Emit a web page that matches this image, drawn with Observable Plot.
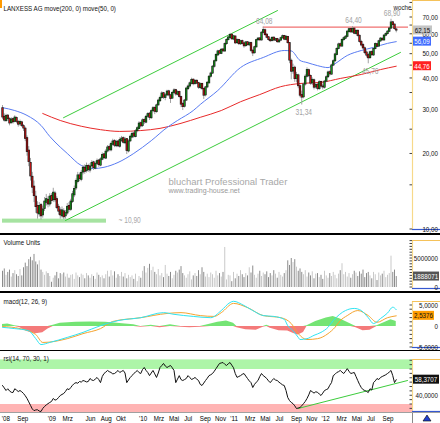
<!DOCTYPE html>
<html><head><meta charset="utf-8">
<script src="https://cdn.jsdelivr.net/npm/d3@7"></script>
<script src="https://cdn.jsdelivr.net/npm/@observablehq/plot@0.6"></script>
<style>
html,body{margin:0;padding:0;background:#fff;overflow:hidden}
#chart{position:relative;width:440px;height:423px;overflow:hidden;background:#fff}
#chart svg{position:absolute;left:0;overflow:hidden}
.bar{position:absolute;left:0;width:440px}
</style></head><body><div id="chart"></div>
<script>
// ---------- DATA ----------
const startWeek = "2008-07-04";
const xDomain = ["2008-06-26", "2012-12-30"];
const open = [30.4,28.1,27.1,28.4,27.5,26.6,27.5,26.9,27.8,26.8,
26.3,26.7,25.8,25.2,23.1,20.6,18.4,16.2,14.8,13.5,
12.4,11.5,12.5,11.4,12.1,12.8,13.1,12.6,13.6,13.1,
13.9,13.2,12.3,11.9,11.3,11.8,11.3,11.6,12.4,12.0,
12.9,13.7,14.6,15.5,16.4,15.8,16.9,17.6,17.1,17.9,
17.2,17.9,18.5,17.5,18.3,18.8,18.0,19.0,19.9,19.2,
20.5,21.3,20.7,21.8,22.5,21.5,22.4,21.4,22.6,23.1,
22.1,22.9,20.5,22.5,23.3,24.1,23.4,24.7,25.2,26.5,
25.9,27.3,26.7,28.2,28.9,27.8,29.7,30.5,29.4,31.3,
32.5,33.5,34.9,33.5,34.3,35.5,34.2,33.3,35.1,35.9,
34.5,35.3,33.7,31.6,30.9,32.7,36.3,37.2,38.1,39.5,
38.1,39.1,38.3,36.7,38.0,36.3,34.3,36.9,38.3,40.7,
41.9,44.6,46.9,49.5,51.3,50.2,52.1,51.3,54.9,57.0,
58.1,59.7,57.3,58.7,55.4,56.9,54.8,56.3,55.1,53.9,
55.7,54.3,55.3,51.5,50.5,53.3,56.9,57.7,56.8,60.9,
62.2,59.7,58.3,56.9,56.5,58.1,56.7,57.4,55.8,56.7,
57.9,59.0,57.1,58.5,55.3,47.0,42.7,44.1,39.9,41.1,
37.2,34.3,33.7,37.9,40.7,43.1,40.9,38.3,39.3,36.9,
37.7,36.3,38.7,37.1,36.8,38.9,40.5,42.3,41.5,45.1,
46.9,49.7,52.5,54.7,53.7,57.0,57.7,58.7,61.3,62.9,
61.1,63.1,60.3,61.9,59.1,55.9,54.3,52.7,50.7,49.5,
48.3,50.9,49.5,52.5,54.7,53.7,56.3,57.5,56.8,59.3,
60.2,61.5,63.3,66.9,65.5,62.6];
const high = [31.2,28.9,28.8,28.7,27.9,27.9,27.8,28.4,28.1,27.2,
27.3,27.0,26.2,25.6,23.6,21.4,19.2,16.9,15.6,14.2,
12.9,12.8,12.7,12.4,13.4,13.8,13.5,13.9,13.9,14.6,
14.2,13.5,12.6,12.2,12.3,12.1,11.9,12.7,12.8,13.2,
14.2,14.9,15.9,16.9,16.8,17.2,18.0,18.1,18.4,18.2,
18.3,18.8,18.7,18.6,19.1,19.0,19.3,20.2,20.1,20.8,
21.6,21.7,22.3,22.9,22.8,22.7,22.6,23.2,23.5,23.4,
23.3,23.0,22.8,23.8,24.5,24.4,25.0,25.7,26.9,26.8,
27.6,27.8,28.5,29.2,29.3,30.0,30.9,30.8,31.6,33.1,
34.0,35.4,35.2,34.8,35.9,35.9,34.6,35.5,36.4,36.2,
35.7,35.6,34.0,32.0,33.0,36.9,37.7,38.7,40.1,39.8,
39.6,39.5,38.6,38.4,38.3,36.6,37.2,38.9,41.0,42.4,
45.0,47.4,50.2,51.8,51.9,52.6,52.7,55.4,57.6,58.9,
60.5,60.2,59.4,59.1,57.6,57.3,56.8,56.9,55.8,56.2,
56.1,55.9,55.8,52.2,53.8,57.3,58.2,58.1,61.4,64.08,
63.0,60.4,58.8,57.6,58.6,58.5,57.9,57.8,57.2,58.4,
59.6,59.4,59.2,58.9,55.6,47.8,45.6,44.8,42.3,41.6,
37.8,35.6,38.3,41.4,44.1,43.6,41.3,40.2,39.8,38.3,
38.2,39.2,39.0,37.9,39.3,41.0,42.8,42.9,45.6,47.5,
50.4,53.0,55.3,55.4,57.5,58.6,59.3,62.0,63.6,63.5,
64.40,63.6,62.5,62.3,59.6,56.8,55.2,53.4,51.6,50.3,
51.4,51.5,52.9,55.4,55.2,56.8,58.2,58.1,59.8,60.8,
62.0,63.9,68.90,67.6,65.9,63.4];
const low = [27.4,26.8,26.7,27.0,25.9,26.2,26.3,26.6,26.4,25.6,
25.8,25.5,24.6,22.4,19.6,17.8,15.6,13.9,12.8,11.6,
11.0,11.2,10.9,11.1,11.8,12.4,12.2,12.3,12.6,12.8,
12.8,12.0,11.4,11.0,11.1,10.95,11.0,11.4,11.7,11.8,
12.7,13.4,14.3,15.2,15.5,15.5,16.5,16.6,16.8,16.9,
16.8,17.6,17.2,17.3,18.0,17.7,17.8,18.8,19.0,19.0,
20.2,20.4,20.4,21.5,21.2,21.2,21.2,21.1,22.2,21.9,
21.8,19.9,20.2,22.2,23.0,23.1,23.2,24.3,25.0,25.4,
25.5,26.2,26.4,27.8,27.2,27.5,29.2,28.7,29.1,31.0,
32.1,33.1,33.0,32.6,33.9,33.8,31.8,33.0,34.7,34.0,
34.1,33.4,30.6,29.8,30.5,32.4,35.8,36.6,37.7,37.4,
37.6,37.8,36.2,36.1,35.8,33.0,33.8,36.4,38.0,40.1,
41.5,44.0,46.5,48.9,49.6,49.8,50.8,51.0,54.2,56.4,
57.5,56.8,56.6,54.6,54.8,54.1,54.2,54.4,52.8,53.2,
53.8,53.6,50.8,48.9,50.0,52.9,56.2,56.1,56.4,60.2,
59.0,57.6,56.3,55.6,55.9,56.1,56.2,55.2,55.3,56.2,
57.4,56.6,56.5,54.8,45.8,39.5,41.6,38.6,38.4,36.4,
33.5,31.34,33.2,37.3,40.2,40.3,37.6,37.5,36.0,36.3,
35.7,35.9,36.6,36.0,36.3,38.5,40.0,40.8,41.2,44.6,
46.4,49.2,52.0,53.0,53.3,56.2,57.1,58.1,60.6,60.5,
60.6,59.8,59.6,58.5,55.3,53.4,52.0,49.8,48.3,45.76,
47.6,48.9,49.0,52.0,53.0,53.2,55.7,56.2,56.3,58.6,
59.5,60.9,62.8,64.6,62.3,60.8];
const close = [28.0,27.2,28.3,27.6,26.5,27.4,26.8,27.9,26.9,26.2,
26.8,25.9,25.3,23.0,20.4,18.6,16.3,14.7,13.6,12.3,
11.6,12.4,11.3,12.0,12.9,13.2,12.6,13.5,13.0,14.0,
13.1,12.2,11.8,11.4,11.9,11.2,11.6,12.3,12.0,12.9,
13.8,14.5,15.6,16.4,15.9,16.8,17.6,17.0,17.9,17.3,
17.8,18.4,17.6,18.2,18.7,18.1,19.0,19.8,19.3,20.4,
21.2,20.8,21.9,22.4,21.6,22.3,21.5,22.7,23.0,22.2,
22.8,20.6,22.4,23.4,24.0,23.5,24.6,25.3,26.4,25.8,
27.2,26.8,28.1,28.8,27.9,29.6,30.4,29.5,31.2,32.6,
33.4,34.8,33.6,34.2,35.4,34.3,33.2,35.0,35.8,34.6,
35.2,33.8,31.5,30.8,32.6,36.4,37.1,38.2,39.4,38.0,
39.0,38.2,36.8,37.9,36.4,34.2,36.8,38.4,40.6,41.8,
44.5,46.8,49.6,51.2,50.3,52.0,51.4,54.8,56.9,58.2,
59.6,57.4,58.8,55.3,56.8,54.9,56.2,55.0,53.8,55.6,
54.4,55.2,51.6,50.4,53.2,56.8,57.6,56.9,60.8,62.3,
59.6,58.2,57.0,56.4,58.0,56.8,57.3,55.9,56.6,57.8,
58.9,57.2,58.6,55.4,47.2,42.6,44.0,39.8,41.2,37.3,
34.2,33.6,37.8,40.6,43.2,41.0,38.2,39.4,36.8,37.6,
36.4,38.6,37.2,36.9,38.8,40.4,42.2,41.6,45.0,46.8,
49.8,52.4,54.6,53.8,56.9,57.8,58.6,61.4,62.8,61.2,
63.0,60.4,61.8,59.2,56.0,54.2,52.8,50.6,49.4,48.2,
50.8,49.6,52.4,54.8,53.6,56.2,57.6,56.9,59.2,60.1,
61.4,63.2,66.8,65.4,63.0,62.15];
const volumeM = [2.8,3.2,2.1,2.6,3.0,1.8,2.4,2.9,2.2,1.9,
3.1,2.0,3.4,4.2,3.6,4.8,5.2,4.6,5.7,4.4,
3.9,4.6,3.0,2.6,2.1,2.7,2.4,1.9,0.9,1.6,
2.0,2.6,1.5,2.4,2.2,2.5,1.8,2.3,1.6,2.1,
2.2,1.4,2.5,2.0,1.7,2.3,2.1,1.5,2.4,2.0,
1.6,2.2,1.9,1.4,2.5,2.1,1.7,2.0,1.5,2.2,
2.8,1.8,2.9,2.0,2.7,1.6,2.2,1.9,2.6,1.8,
2.4,1.5,2.1,1.7,2.0,1.4,2.3,1.0,1.9,1.6,
2.8,3.6,2.5,3.3,4.0,2.9,3.5,2.6,2.2,3.1,
2.0,2.4,1.7,3.8,2.3,1.9,2.6,1.5,2.1,2.8,
2.5,3.0,3.6,2.4,2.0,1.6,2.2,2.7,1.3,2.0,
2.4,1.9,2.9,2.2,3.4,2.6,1.8,2.3,1.7,2.5,
2.2,1.6,2.8,2.0,2.4,1.8,2.6,6.9,1.3,2.1,
2.0,1.0,2.6,1.5,2.3,1.9,2.9,2.2,1.7,2.4,
2.0,3.4,2.5,3.7,2.1,1.6,2.3,2.8,1.9,2.5,
2.2,2.7,1.7,2.4,2.0,2.9,2.3,1.6,2.6,2.1,
1.8,2.4,2.9,4.6,3.8,5.0,4.3,4.8,3.5,2.8,
3.2,2.6,2.2,2.9,1.8,2.5,2.0,2.7,1.5,2.3,
2.4,1.7,2.1,1.4,2.8,2.0,1.6,2.4,1.9,2.6,
2.1,1.5,2.3,2.9,4.1,2.2,2.6,1.8,2.4,1.6,
2.2,2.8,2.5,1.9,2.7,2.3,3.0,1.7,2.4,2.6,
2.0,1.5,2.6,2.2,1.2,2.5,2.0,2.3,2.8,1.7,
2.1,2.4,5.4,2.6,3.0,1.888071];
const rsi = [51.7,49.0,46.0,48.0,45.5,44.0,43.7,48.0,46.5,44.8,
46.0,44.5,42.6,40.0,36.9,33.0,29.0,25.0,23.0,23.8,
24.0,22.5,22.0,25.5,27.7,29.5,31.0,32.3,33.5,36.9,
35.0,35.7,38.0,40.3,41.5,42.6,45.0,48.0,47.0,49.4,
52.0,54.0,55.0,54.3,56.3,55.6,57.4,56.8,55.8,56.3,
59.7,58.0,57.4,59.0,60.9,58.5,55.0,62.0,65.4,67.0,
68.9,67.5,66.6,65.0,65.4,67.0,68.9,66.6,67.8,68.9,
66.0,55.0,58.0,60.9,63.0,65.4,67.0,68.9,66.5,65.4,
70.0,72.3,69.0,66.6,63.0,66.0,68.9,65.0,60.9,66.0,
72.3,74.5,76.9,74.0,72.3,73.5,74.6,72.0,68.9,55.0,
59.0,63.0,58.5,57.4,58.5,59.7,63.0,61.0,58.6,59.5,
60.9,59.0,57.4,53.0,51.7,54.5,57.4,60.0,63.0,64.0,
65.4,68.0,71.0,74.0,76.9,77.5,78.0,76.0,74.6,76.5,
78.0,75.0,72.0,65.4,61.0,62.0,63.0,64.5,65.4,62.5,
59.7,57.0,55.0,49.4,53.0,55.5,57.4,62.0,65.4,63.0,
61.5,59.7,57.0,55.0,57.5,59.7,58.0,57.4,55.5,54.0,
52.5,51.7,46.0,38.0,34.5,32.3,31.0,28.5,25.4,26.0,
26.6,28.5,31.0,33.5,36.9,41.0,46.0,44.5,43.0,44.5,
44.0,42.0,40.3,43.0,46.0,47.0,48.0,52.0,55.0,63.0,
64.5,66.6,67.5,68.9,67.0,65.4,68.0,71.0,68.0,65.4,
66.0,66.6,62.0,57.4,53.0,49.4,47.0,46.0,45.0,43.7,
48.0,46.5,55.0,57.0,59.7,58.5,60.9,62.0,63.0,64.0,
65.4,67.0,68.9,63.0,55.0,58.3707];
const ma50Week = [0,7,14,22,27,33,37,45,52,58,66,75,85,94,100,109,113,123,136,149,161,165,170,174,180,186,190,197,205,212,220,225];
const ma50Value = [30.6,29.8,28.5,26.0,23.5,21.3,20.1,18.0,17.5,17.7,18.5,20.1,22.6,25.5,27.2,29.8,31.5,35.8,44.2,48.5,51.7,51.5,47.2,46.3,45.0,44.2,45.8,49.4,51.7,53.2,55.2,56.09];
const ma200Week = [23,33,45,56,67,79,90,102,113,125,136,147,159,170,182,193,205,216,225];
const ma200Value = [29.0,27.2,25.8,25.0,24.6,24.8,25.3,26.5,28.0,29.8,32.3,34.5,37.1,38.2,38.6,40.0,41.5,43.4,44.76];
const macdWeek = [0,7,15,19,22,27,37,46,56,66,79,92,98,109,119,125,130,132,138,143,149,155,161,163,166,169,170,174,178,182,186,189,196,201,205,209,212,216,220,223,225];
const macdValue = [-0.2,-0.5,-1.0,-2.9,-4.3,-3.8,-2.6,-1.4,0.2,1.4,2.1,3.3,2.9,2.4,2.1,3.8,5.7,6.0,5.0,3.8,2.6,2.4,1.7,0.2,-1.0,-2.6,-3.1,-2.9,-2.1,-1.4,-0.2,1.4,3.8,4.3,3.8,2.1,0.7,1.9,3.2,4.6,4.0];
const signalWeek = [0,10,19,23,37,46,56,63,79,94,102,113,121,125,132,140,149,159,165,169,174,180,186,190,193,197,203,209,214,220,225];
const signalValue = [0,-0.5,-1.9,-3.8,-2.9,-1.7,-0.5,1.2,2.1,3.1,3.3,2.6,2.4,3.3,5.5,4.5,2.6,2.1,0.7,-1.7,-3.1,-2.9,-1.7,-0.2,1.4,2.6,3.8,2.6,1.0,2.1,2.5376];
const histWeek = [0,3,7,10,14,19,23,26,29,33,42,50,59,67,75,79,85,90,96,102,107,113,119,123,128,132,134,139,145,149,151,153,158,163,166,169,172,174,179,185,189,193,199,202,206,210,214,218,222,225];
const histValue = [0.5,0.6,0.2,-0.3,-1.2,-1.7,-1.5,-0.6,0.3,0.8,1.0,1.1,1.0,0.7,0.4,-0.2,0.3,-0.3,0.4,-0.2,-0.3,-0.2,0.6,1.0,1.3,0.8,-0.3,-0.8,-0.9,-0.2,0.3,-0.4,-1.0,-1.1,-1.6,-2.0,-1.4,0.2,1.2,2.0,2.4,1.8,0.6,-0.3,-1.0,-0.9,0.2,0.9,1.6,1.2];
// annotations
const peakHighWeek = [149, 200, 222];
const peakHighValue = [64.08, 64.40, 68.90];
const peakLowWeek = [209, 171];
const peakLowValue = [45.76, 31.34];
const lowZoneDates = ["2008-07-04", "2009-08-24"];
const lowZoneRange = [10.6, 11.0];
const lowZoneLabel = "~ 10,90";
const channelLowerDates = ["2009-03-13", "2012-11-12"];
const channelLowerValues = [10.86, 50.8];
const channelUpperDates = ["2009-03-05", "2011-07-09"];
const channelUpperValues = [27.9, 74.6];
const resistanceDates = ["2011-05-13", "2012-12-14"];
const resistanceValue = 64.08;
const rsiTrendDates = ["2011-09-30", "2012-12-10"];
const rsiTrendValues = [25.5, 57.4];
const rsiZones = [[70, 81, "#adf5a8"], [20, 30, "#ffb4b4"]];
// tick labels
const priceTicks = [10, 20, 30, 40, 50, 60, 70];
const volumeTicks = [0, 5];
const macdTicks = [-5, 0, 5];
const rsiTicks = [40, 60];
const xLabels = [["2008-07-01","'08"],["2008-09-01","Sep"],["2009-01-01","'09"],["2009-03-01","Mrz"],["2009-06-01","Jun"],["2009-08-01","Aug"],["2009-10-01","Okt"],["2010-01-01","'10"],["2010-03-01","Mrz"],["2010-05-01","Mai"],["2010-07-01","Jul"],["2010-09-01","Sep"],["2010-11-01","Nov"],["2011-01-01","'11"],["2011-03-01","Mrz"],["2011-05-01","Mai"],["2011-07-01","Jul"],["2011-09-01","Sep"],["2011-11-01","Nov"],["2012-01-01","'12"],["2012-03-01","Mrz"],["2012-05-01","Mai"],["2012-07-01","Jul"],["2012-09-01","Sep"]];
const titleText = "LANXESS AG move(200, 0) move(50, 0)";

// ---------- BUILD ----------
const FONT = '"Liberation Sans",Arial,sans-serif';
const root = document.getElementById("chart");
const D = s => new Date(s + "T00:00:00Z");
const t0 = D(startWeek);
const weekDate = i => new Date(t0.getTime() + i * 7 * 864e5);
const comma = (v, n) => v.toFixed(n).replace(".", ",");
const candles = close.map((c, i) => ({date: weekDate(i), o: open[i], h: high[i], l: low[i], c, v: volumeM[i], r: rsi[i]}));
const series = (w, v) => w.map((k, i) => ({date: weekDate(k), v: v[i]}));
const ma50 = series(ma50Week, ma50Value), ma200 = series(ma200Week, ma200Value);
const macdS = series(macdWeek, macdValue), sigS = series(signalWeek, signalValue), histS = series(histWeek, histValue);
const xOpt = {type: "utc", domain: xDomain.map(D), range: [0, 412], axis: null};

function panel(top, height, y, marks) {
  const p = Plot.plot({width: 440, height, marginLeft: 0, marginRight: 28, marginTop: 0, marginBottom: 0,
    x: xOpt, y: {...y, axis: null},
    style: {fontFamily: FONT, fontSize: "8px", background: "transparent"}, marks});
  p.style.top = top + "px";
  root.appendChild(p);
  return p;
}
function hline(top, h, color) {
  const d = document.createElement("div"); d.className = "bar";
  d.style.top = top + "px"; d.style.height = h + "px"; d.style.background = color; root.appendChild(d);
}
function axisBox(p, top, bottom, ticks, fmt, minor, boxes) {
  const y = p.scale("y");
  const g = d3.select(p).append("g").attr("font-family", FONT).attr("font-size", 8);
  g.append("line").attr("x1", 412.5).attr("x2", 412.5).attr("y1", top).attr("y2", bottom).attr("stroke", "#f7d98a").attr("stroke-width", 1.2);
  g.append("line").attr("x1", 412).attr("x2", 440).attr("y1", top + 0.5).attr("y2", top + 0.5).attr("stroke", "#f5c25a");
  g.append("line").attr("x1", 412).attr("x2", 440).attr("y1", bottom - 0.5).attr("y2", bottom - 0.5).attr("stroke", "#3558d0").attr("stroke-width", 1.2);
  minor.forEach(t => { const yy = y.apply(t); if (yy >= top && yy <= bottom) g.append("line").attr("x1", 409.5).attr("x2", 412).attr("y1", yy).attr("y2", yy).attr("stroke", "#444"); });
  ticks.forEach(t => g.append("text").attr("x", 438).attr("y", y.apply(t)).attr("dy", "0.35em").attr("text-anchor", "end").attr("fill", "#111").text(fmt(t)));
  boxes.forEach(b => { const yy = y.apply(b.v);
    g.append("rect").attr("x", 413).attr("y", yy - 4.5).attr("width", b.w).attr("height", 9).attr("fill", b.bg);
    g.append("text").attr("x", 413 + b.w / 2).attr("y", yy).attr("dy", "0.35em").attr("text-anchor", "middle").attr("fill", b.fg).text(b.text); });
}

// Price panel
const last = candles[candles.length - 1];
const pPrice = panel(0, 233, {type: "log", domain: [10, 70], range: [229, 17]}, [
  Plot.text([1], {frameAnchor: "top-left", dx: 168, dy: 178, text: () => "bluchart Professional Trader", textAnchor: "start", fill: "#a8a8a8", fontSize: 9.5, style: "letter-spacing:0.4px"}),
  Plot.text([1], {frameAnchor: "top-left", dx: 168, dy: 188, text: () => "www.trading-house.net", textAnchor: "start", fill: "#999", fontSize: 7}),
  Plot.rect([0], {x1: () => D(lowZoneDates[0]), x2: () => D(lowZoneDates[1]), y1: () => lowZoneRange[0], y2: () => lowZoneRange[1], fill: "#a6e3a1"}),
  Plot.text([0], {x: () => D(lowZoneDates[1]), y: () => 10.9, text: () => lowZoneLabel, dx: 12, textAnchor: "start", fill: "#aaa", fontSize: 8.5}),
  Plot.line(channelLowerDates.map((d, i) => ({date: D(d), v: channelLowerValues[i]})), {x: "date", y: "v", stroke: "#3ccc3c", strokeWidth: 1}),
  Plot.line(channelUpperDates.map((d, i) => ({date: D(d), v: channelUpperValues[i]})), {x: "date", y: "v", stroke: "#3ccc3c", strokeWidth: 1}),
  Plot.ruleY([resistanceValue], {x1: D(resistanceDates[0]), x2: D(resistanceDates[1]), stroke: "#f07070", strokeWidth: 1.4}),
  Plot.line(ma200, {x: "date", y: "v", stroke: "#e82a2a", strokeWidth: 1, curve: "monotone-x"}),
  Plot.line(ma50, {x: "date", y: "v", stroke: "#5a7cf2", strokeWidth: 1, curve: "monotone-x"}),
  Plot.ruleX(candles, {x: "date", y1: "l", y2: "h", stroke: "#a2a2a2", strokeWidth: 1}),
  Plot.ruleX(candles, {x: "date", y1: d => Math.min(d.o, d.c) * 0.995, y2: d => Math.max(d.o, d.c) * 1.005, stroke: "#111", strokeWidth: 2.3}),
  Plot.ruleX(candles, {x: "date", y1: "o", y2: "c", stroke: d => d.c >= d.o ? "#16901a" : "#b81414", strokeWidth: 1.1}),
  Plot.text(peakHighWeek, {x: w => weekDate(w), y: (w, i) => peakHighValue[i], text: (w, i) => comma(peakHighValue[i], 2), dy: -6, dx: 1, fill: "#a3a3a3", fontSize: 8.5}),
  Plot.text(peakLowWeek, {x: w => weekDate(w), y: (w, i) => peakLowValue[i], text: (w, i) => comma(peakLowValue[i], 2), dy: 7, dx: 2, fill: "#a3a3a3", fontSize: 8.5}),
  Plot.text([titleText], {frameAnchor: "top-left", dx: 3, dy: 4.5, text: d => d, textAnchor: "start", fill: "#111", fontSize: 8}),
  Plot.text(["woche"], {frameAnchor: "top-right", dx: -1, dy: 3.5, text: d => d, textAnchor: "end", fill: "#222", fontSize: 8})
]);
axisBox(pPrice, 0, 230, priceTicks, v => comma(v, 2), d3.range(10, 85, 5), [
  {v: last.c, text: comma(last.c, 2), bg: "#c4c4c4", fg: "#111", w: 19},
  {v: ma50Value[ma50Value.length - 1], text: comma(ma50Value[ma50Value.length - 1], 2), bg: "#3f6cff", fg: "#fff", w: 18},
  {v: ma200Value[ma200Value.length - 1], text: comma(ma200Value[ma200Value.length - 1], 2), bg: "#ff2020", fg: "#fff", w: 18}
]);
d3.select(pPrice).append("rect").attr("x", 0).attr("y", 0).attr("width", 2).attr("height", 8).attr("fill", "#ff9a00");
hline(233, 2, "#000");

// Volume panel
const pVol = panel(235, 56, {domain: [0, 5], range: [52, 23]}, [
  Plot.ruleX(candles, {x: "date", y1: 0, y2: "v", stroke: d => d.c >= d.o ? "#c9c9c9" : "#8c8c8c", strokeWidth: 1}),
  Plot.text(["Volume Units"], {frameAnchor: "top-left", dx: 3, dy: 4, text: d => d, textAnchor: "start", fill: "#111", fontSize: 8})
]);
axisBox(pVol, 5, 54, volumeTicks, v => String(Math.round(v * 1e6)), d3.range(0, 9, 0.5), [
  {v: last.v, text: String(Math.round(last.v * 1e6)), bg: "#555", fg: "#fff", w: 26}
]);
hline(291, 2, "#000");

// MACD panel
const pMacd = panel(293, 58, {domain: [-5, 5], range: [54, 12]}, [
  Plot.areaY(histS, {x: "date", y: d => Math.max(0, d.v), fill: "#74e474"}),
  Plot.areaY(histS, {x: "date", y: d => Math.min(0, d.v), fill: "#f47a7a"}),
  Plot.line(sigS, {x: "date", y: "v", stroke: "#f5a430", strokeWidth: 1, curve: "monotone-x"}),
  Plot.line(macdS, {x: "date", y: "v", stroke: "#30e4f2", strokeWidth: 1, curve: "monotone-x"}),
  Plot.text(["macd(12, 26, 9)"], {frameAnchor: "top-left", dx: 3, dy: 4.5, text: d => d, textAnchor: "start", fill: "#111", fontSize: 8})
]);
axisBox(pMacd, 8, 55, macdTicks, v => v === 0 ? "0" : comma(v, 4), d3.range(-5, 8, 1), [
  {v: signalValue[signalValue.length - 1], text: comma(signalValue[signalValue.length - 1], 4), bg: "#ff9c00", fg: "#111", w: 21}
]);
hline(349.5, 1.5, "#000");

// RSI panel
const pRsi = panel(351, 61, {domain: [30, 70], range: [53, 18]}, [
  ...rsiZones.map(z => Plot.rect([z], {x1: () => D(xDomain[0]), x2: () => D(xDomain[1]), y1: () => z[0], y2: () => z[1], fill: z[2]})),
  Plot.line(rsiTrendDates.map((d, i) => ({date: D(d), v: rsiTrendValues[i]})), {x: "date", y: "v", stroke: "#3ccc3c", strokeWidth: 1}),
  Plot.line(candles, {x: "date", y: "r", stroke: "#111", strokeWidth: 1}),
  Plot.text(["rsi(14, 70, 30, 1)"], {frameAnchor: "top-left", dx: 3, dy: 3.5, text: d => d, textAnchor: "start", fill: "#111", fontSize: 8})
]);
axisBox(pRsi, 8, 61, rsiTicks, v => comma(v, 4), d3.range(20, 95, 5), [
  {v: last.r, text: comma(last.r, 4), bg: "#111", fg: "#fff", w: 26}
]);
hline(412, 1, "#a0a0a0");

// X axis strip
const pX = panel(413, 10, {domain: [0, 1], range: [10, 0]}, [
  Plot.text(xLabels, {x: d => D(d[0]), text: d => d[1], frameAnchor: "middle", textAnchor: "start", fill: "#000", fontSize: 8})
]);
const gx = d3.select(pX).append("g");
gx.append("line").attr("x1", 412.5).attr("x2", 412.5).attr("y1", 0).attr("y2", 10).attr("stroke", "#888");
gx.append("path").attr("d", "M423,8 L427,2 L431,8 Z").attr("fill", "#2040d0").attr("stroke", "#000").attr("stroke-width", 0.6);

// narrow the sans text horizontally about its anchor (the reference uses a condensed UI font)
d3.selectAll("#chart text").each(function () {
  const s = this.textContent;
  if (!s || s.startsWith("bluchart") || s.startsWith("www.")) return;
  const ax = parseFloat(this.getAttribute("x")) || 0;
  const t = this.getAttribute("transform") || "";
  this.setAttribute("transform", `${t} translate(${ax},0) scale(0.78,1) translate(${-ax},0)`.trim());
});
</script></body></html>
